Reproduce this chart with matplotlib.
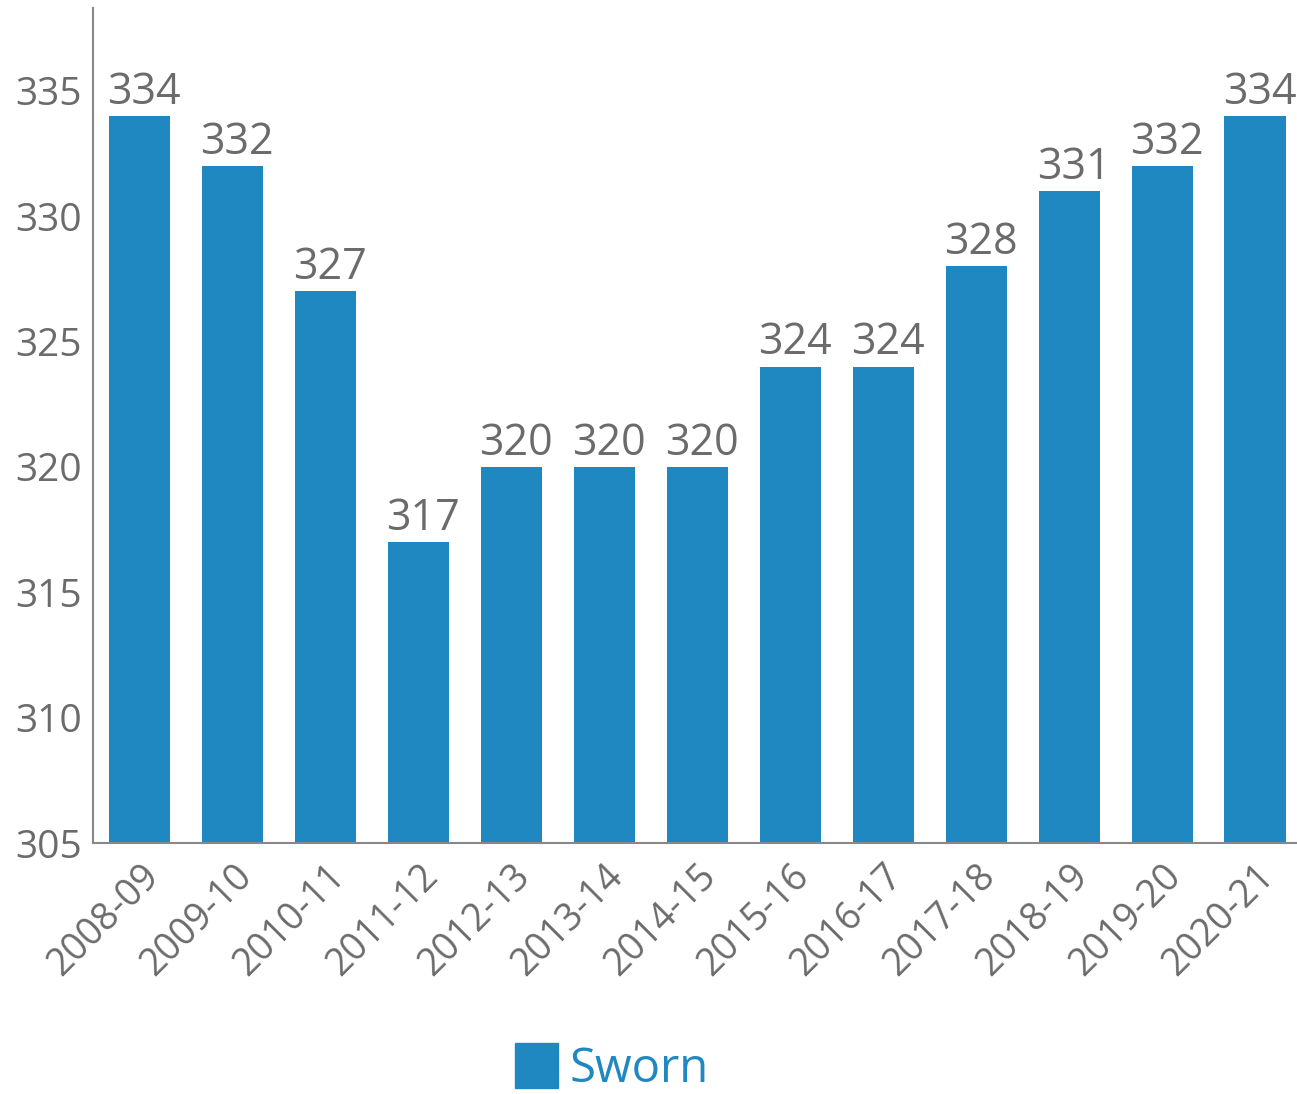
import matplotlib.pyplot as plt
from matplotlib.patches import Patch

plt.rcParams['font.family'] = ['Open Sans', 'DejaVu Sans']

years = ['2008-09', '2009-10', '2010-11', '2011-12', '2012-13', '2013-14', '2014-15',
         '2015-16', '2016-17', '2017-18', '2018-19', '2019-20', '2020-21']
sworn = [334, 332, 327, 317, 320, 320, 320, 324, 324, 328, 331, 332, 334]
yticks = [305, 310, 315, 320, 325, 330, 335]

blue = '#1f88c0'
grey = '#6b6b6b'
base = 305

fig = plt.figure(figsize=(12.97, 10.94), dpi=100)
ax = fig.add_axes([93 / 1297, 1 - 843 / 1094, 1 - 93 / 1297, (843 - 8) / 1094])

x = list(range(len(years)))
heights = [v - base for v in sworn]
ax.bar(x, heights, bottom=base, width=0.66, color=blue)

for xi, v in zip(x, sworn):
    ax.text(xi + 0.05, v + 0.05, str(v), ha='center', va='bottom', fontsize=31,
            color=grey)

ax.set_xlim(-0.5, 12.45)
ax.set_ylim(305, 338.3)
ax.set_yticks(yticks)
ax.set_xticks(x)
ax.set_xticklabels(years, rotation=45, ha='right', rotation_mode='anchor')
ax.tick_params(axis='y', length=0, labelsize=28, labelcolor=grey, pad=8)
ax.tick_params(axis='x', length=0, labelsize=27, labelcolor=grey, pad=10)

for s in ['top', 'right']:
    ax.spines[s].set_visible(False)
for s in ['left', 'bottom']:
    ax.spines[s].set_color('#888888')
    ax.spines[s].set_linewidth(1.5)

leg = fig.legend(handles=[Patch(color=blue, label='Sworn')], loc='center',
                 bbox_to_anchor=(612 / 1297, 1 - 1068 / 1094), frameon=False,
                 fontsize=34, handlelength=0.9, handleheight=1.1, handletextpad=0.25)
for t in leg.get_texts():
    t.set_color(blue)

fig.savefig('out.png', dpi=100)
